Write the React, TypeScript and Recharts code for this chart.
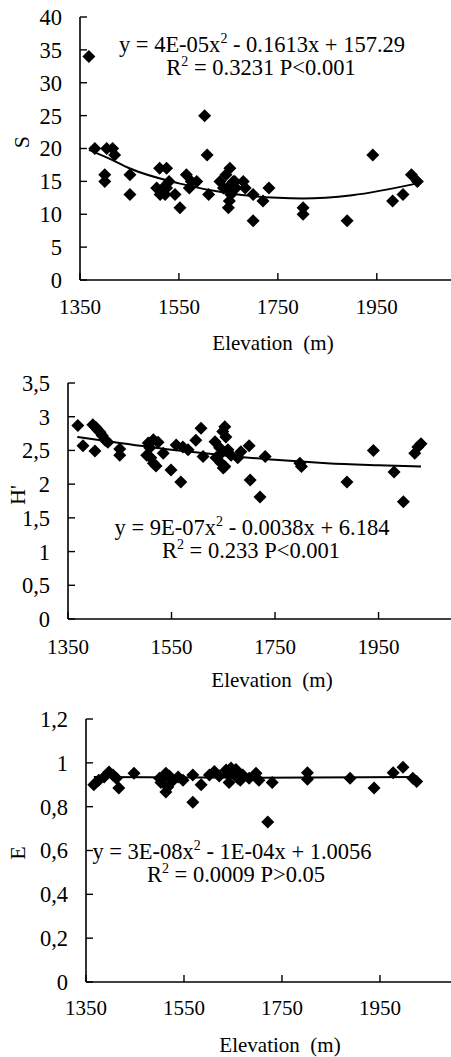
import React from 'react';
import { ComposedChart, Scatter, Line, XAxis, YAxis } from 'recharts';

// ---------- shared ticks ----------
const elevationTicks = [1350, 1550, 1750, 1950];
const sTicks = [0, 5, 10, 15, 20, 25, 30, 35, 40];
const hTicks = [0, 0.5, 1, 1.5, 2, 2.5, 3, 3.5];
const eTicks = [0, 0.2, 0.4, 0.6, 0.8, 1, 1.2];

// ---------- panel 1: S ----------
const sElevation = [1368, 1380, 1404, 1416, 1420, 1400, 1400, 1451, 1451, 1505, 1511, 1512, 1518, 1522, 1525, 1525, 1530, 1542, 1552, 1565, 1571, 1575, 1586, 1602, 1607, 1610, 1633, 1640, 1645, 1648, 1650, 1652, 1653, 1655, 1660, 1663, 1665, 1680, 1684, 1700, 1700, 1720, 1732, 1801, 1801, 1890, 1942, 1982, 2003, 2020, 2032];
const sValues = [34, 20, 20, 20, 19, 16, 15, 16, 13, 14, 17, 13, 14, 13, 17, 14, 15, 13, 11, 16, 14, 15, 15, 25, 19, 13, 15, 14, 16, 14, 11, 12, 17, 13, 15, 15, 14, 15, 14, 13, 9, 12, 14, 11, 10, 9, 19, 12, 13, 16, 15];
const sTrendElevation = [1368, 1417, 1450, 1550, 1650, 1750, 1800, 1900, 2032];
const sTrendValues = [19.8, 18.2, 17.0, 14.7, 13.2, 12.5, 12.4, 12.9, 14.7];

// ---------- panel 2: H' ----------
const hElevation = [1369, 1379, 1398, 1404, 1408, 1412, 1416, 1422, 1402, 1427, 1450, 1450, 1505, 1515, 1524, 1502, 1508, 1510, 1515, 1520, 1534, 1549, 1568, 1559, 1572, 1582, 1597, 1607, 1611, 1634, 1636, 1643, 1646, 1646, 1649, 1650, 1653, 1653, 1655, 1659, 1665, 1678, 1684, 1700, 1702, 1721, 1731, 1798, 1801, 1889, 1940, 1980, 1998, 2020, 2026, 2032];
const hValues = [2.87, 2.57, 2.88, 2.84, 2.8, 2.77, 2.72, 2.65, 2.49, 2.62, 2.52, 2.43, 2.61, 2.66, 2.62, 2.43, 2.54, 2.39, 2.31, 2.27, 2.46, 2.21, 2.03, 2.58, 2.55, 2.51, 2.65, 2.83, 2.41, 2.63, 2.39, 2.54, 2.46, 2.31, 2.78, 2.24, 2.85, 2.26, 2.7, 2.51, 2.43, 2.39, 2.48, 2.57, 2.06, 1.81, 2.41, 2.31, 2.26, 2.03, 2.5, 2.18, 1.74, 2.46, 2.55, 2.6];
const hTrendElevation = [1368, 1450, 1550, 1650, 1750, 1850, 1950, 2032];
const hTrendValues = [2.7, 2.61, 2.51, 2.43, 2.36, 2.31, 2.28, 2.26];

// ---------- panel 3: E ----------
const eElevation = [1366, 1376, 1387, 1397, 1405, 1412, 1417, 1448, 1500, 1503, 1508, 1513, 1513, 1517, 1520, 1528, 1538, 1548, 1568, 1568, 1585, 1602, 1612, 1622, 1636, 1640, 1642, 1646, 1652, 1656, 1660, 1665, 1670, 1683, 1697, 1703, 1721, 1730, 1802, 1802, 1889, 1938, 1977, 1997, 2017, 2025];
const eValues = [0.9, 0.92, 0.935, 0.958, 0.945, 0.93, 0.885, 0.953, 0.93, 0.91, 0.93, 0.953, 0.867, 0.89, 0.94, 0.92, 0.935, 0.92, 0.945, 0.82, 0.9, 0.945, 0.96, 0.94, 0.967, 0.95, 0.91, 0.976, 0.953, 0.97, 0.93, 0.92, 0.944, 0.93, 0.953, 0.92, 0.73, 0.91, 0.955, 0.925, 0.93, 0.885, 0.955, 0.98, 0.93, 0.915];
const eTrendElevation = [1366, 1700, 2025];
const eTrendValues = [0.935, 0.932, 0.935];

const toPoints = (xs: number[], ys: number[]) => xs.map((x, i) => ({ x, y: ys[i] }));

const FONT = 'Liberation Serif';

const Diamond = (props: any) => {
  const { cx, cy } = props;
  if (cx == null || cy == null) return null;
  const r = 6.5;
  return <polygon points={`${cx},${cy - r} ${cx + r},${cy} ${cx},${cy + r} ${cx - r},${cy}`} fill="#000" />;
};

const commaFmt = (v: number) => String(v).replace('.', ',');

type PanelProps = {
  top: number;
  height: number;
  marginTop: number;
  yAxisWidth: number;
  xAxisHeight: number;
  xMax: number;
  yDomain: [number, number];
  yTicks: number[];
  points: { x: number; y: number }[];
  trend: { x: number; y: number }[];
  xTickMargin: number;
  yFmt?: (v: number) => string;
};

const Panel = (p: PanelProps) => (
  <div style={{ position: 'absolute', left: 0, top: p.top }}>
    <ComposedChart width={451} height={p.height} margin={{ top: p.marginTop, right: 0, bottom: 0, left: 0 }}>
      <XAxis
        dataKey="x"
        type="number"
        domain={[1350, p.xMax]}
        ticks={elevationTicks}
        allowDataOverflow
        height={p.xAxisHeight}
        tickSize={-7}
        tickMargin={p.xTickMargin}
        axisLine={{ stroke: '#000', strokeWidth: 1.6 }}
        tickLine={{ stroke: '#000', strokeWidth: 1.4 }}
        tick={{ fill: '#000', fontSize: 21, fontFamily: FONT, style: { fontFamily: FONT } }}
        interval={0}
      />
      <YAxis
        dataKey="y"
        type="number"
        domain={p.yDomain}
        ticks={p.yTicks}
        allowDataOverflow
        width={p.yAxisWidth}
        tickSize={-7}
        tickMargin={25}
        axisLine={{ stroke: '#000', strokeWidth: 1.6 }}
        tickLine={{ stroke: '#000', strokeWidth: 1.4 }}
        tick={{ fill: '#000', fontSize: 22.5, fontFamily: FONT, style: { fontFamily: FONT } }}
        tickFormatter={p.yFmt}
        interval={0}
      />
      <Scatter data={p.points} dataKey="y" shape={Diamond} isAnimationActive={false} />
      <Line
        data={p.trend}
        dataKey="y"
        type="monotone"
        dot={false}
        activeDot={false}
        stroke="#000"
        strokeWidth={2}
        isAnimationActive={false}
      />
    </ComposedChart>
  </div>
);

const Sup = ({ children }: { children: React.ReactNode }) => (
  <tspan fontSize={14} dy={-9}>{children}</tspan>
);

const NB = '\u00a0';

export default function App() {
  return (
    <div style={{ position: 'absolute', left: 0, top: 0, width: 451, height: 1057, overflow: 'hidden', background: '#fff' }}>
      <Panel
        top={0}
        height={330}
        marginTop={17}
        yAxisWidth={80}
        xAxisHeight={50}
        xMax={2100}
        yDomain={[0, 40]}
        yTicks={sTicks}
        points={toPoints(sElevation, sValues)}
        trend={toPoints(sTrendElevation, sTrendValues)}
        xTickMargin={26}
      />
      <Panel
        top={360}
        height={300}
        marginTop={23}
        yAxisWidth={68}
        xAxisHeight={41}
        xMax={2090}
        yDomain={[0, 3.5]}
        yTicks={hTicks}
        points={toPoints(hElevation, hValues)}
        trend={toPoints(hTrendElevation, hTrendValues)}
        xTickMargin={27}
        yFmt={commaFmt}
      />
      <Panel
        top={700}
        height={330}
        marginTop={19}
        yAxisWidth={86}
        xAxisHeight={48}
        xMax={2095}
        yDomain={[0, 1.2]}
        yTicks={eTicks}
        points={toPoints(eElevation, eValues)}
        trend={toPoints(eTrendElevation, eTrendValues)}
        xTickMargin={25}
        yFmt={commaFmt}
      />
      <svg width={451} height={1057} style={{ position: 'absolute', left: 0, top: 0, pointerEvents: 'none' }} fill="#000">
        <g style={{ fontFamily: FONT }}>
          {/* panel 1 */}
          <text x={262} y={52} fontSize={22.5} textAnchor="middle">
            y = 4E-05x<Sup>2</Sup><tspan dy={9}> - 0.1613x + 157.29</tspan>
          </text>
          <text x={261} y={75} fontSize={22.5} textAnchor="middle">
            R<Sup>2</Sup><tspan dy={9}> = 0.3231 P&lt;0.001</tspan>
          </text>
          <text x={273} y={350} fontSize={21} textAnchor="middle">{`Elevation${NB}${NB}(m)`}</text>
          <text x={29} y={142} fontSize={22} textAnchor="middle" transform="rotate(-90 29 142)">S</text>

          {/* panel 2 */}
          <text x={252} y={535} fontSize={22.5} textAnchor="middle">
            y = 9E-07x<Sup>2</Sup><tspan dy={9}> - 0.0038x + 6.184</tspan>
          </text>
          <text x={251} y={558} fontSize={22.5} textAnchor="middle">
            R<Sup>2</Sup><tspan dy={9}> = 0.233 P&lt;0.001</tspan>
          </text>
          <text x={272} y={687} fontSize={21} textAnchor="middle">{`Elevation${NB}${NB}(m)`}</text>
          <text x={25} y={495} fontSize={22} textAnchor="middle" transform="rotate(-90 25 495)">H'</text>

          {/* panel 3 */}
          <text x={232} y={859} fontSize={22.5} textAnchor="middle">
            y = 3E-08x<Sup>2</Sup><tspan dy={9}> - 1E-04x + 1.0056</tspan>
          </text>
          <text x={236} y={882} fontSize={22.5} textAnchor="middle">
            R<Sup>2</Sup><tspan dy={9}> = 0.0009 P&gt;0.05</tspan>
          </text>
          <text x={280} y={1052} fontSize={21} textAnchor="middle">{`Elevation${NB}${NB}(m)`}</text>
          <text x={25} y={853} fontSize={22} textAnchor="middle" transform="rotate(-90 25 853)">E</text>
        </g>
      </svg>
    </div>
  );
}
